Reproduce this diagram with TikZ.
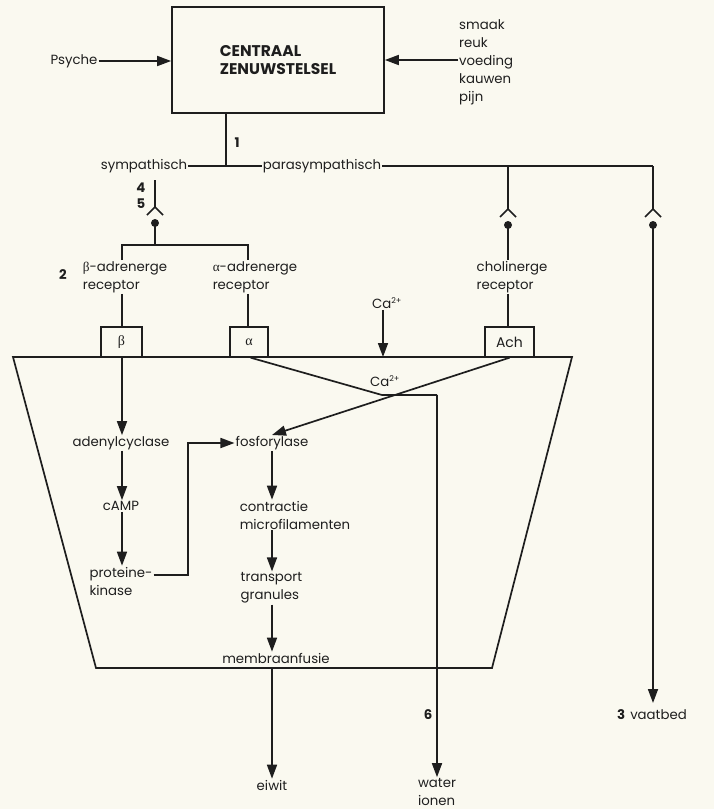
\documentclass[tikz,border=0pt]{standalone}
\usepackage{fontspec}
\setmainfont{Poppins}
\newfontfamily\grk{Liberation Serif}
\usetikzlibrary{arrows.meta}
\definecolor{bg}{RGB}{250,249,240}
\definecolor{ink}{RGB}{30,30,30}
\newcommand\bet{{\grk β}}
\newcommand\alf{{\grk α}}
\newcommand\capl{Ca\textsuperscript{\fontsize{8}{8}\selectfont 2+}}
\tikzset{
  ln/.style={draw=ink, line width=1.7pt},
  arr/.style={ln, -{Triangle[length=14pt,width=10pt]}},
  txt/.style={inner sep=1pt, text=ink, font=\fontsize{13.3}{18}\selectfont, align=left},
  num/.style={inner sep=1pt, text=ink, font=\fontsize{13.3}{18}\selectfont\bfseries},
  rbox/.style={draw=ink, line width=1.4pt, minimum height=30pt, inner sep=0pt, text=ink, font=\fontsize{14}{18}\selectfont},
  synapse/.pic={\draw[ln] (-8,8) -- (0,0) -- (8,8); \fill[ink] (0,16) circle[radius=4];}
}
\begin{document}
\begin{tikzpicture}[x=1pt,y=-1pt]
\fill[bg] (0,0) rectangle (714,809);
\useasboundingbox (0,0) rectangle (714,809);
% central box
\node[draw=ink, line width=1.7pt, minimum width=212pt, minimum height=106pt, align=left, text=ink,
      font=\fontsize{15.5}{18}\selectfont\bfseries] (czs) at (278,60) {CENTRAAL\\ZENUWSTELSEL};
\node[txt] (psyche) at (74,61) {Psyche};
\node[txt, anchor=west] (inputs) at (458,62) {smaak\\reuk\\voeding\\kauwen\\pijn};
\draw[arr] (psyche) -- (czs.west |- psyche);
\draw[arr] (inputs.west |- czs.west) -- (czs.east);
% split
\coordinate (j1) at (226,166);
\draw[ln] (czs.south -| j1) -- (j1);
\node[num] (n1) at (237,143) {1};
\node[txt] (symp) at (144,166) {sympathisch};
\node[txt] (para) at (322,166) {parasympathisch};
\draw[ln] (symp.east) -- (para.west);
\coordinate (cp) at (508,166);
\coordinate (vp) at (653,166);
\draw[ln] (para.east) -- (vp);
% sympathetic branch
\coordinate (s0) at (155,180);
\coordinate (s1) at (155,207);
\coordinate (s2) at (155,223);
\coordinate (s3) at (155,245);
\draw[ln] (s0) -- (s1);
\pic at (s1) {synapse};
\draw[ln] (s2) -- (s3);
\node[num] (n4) at (141,188) {4};
\node[num] (n5) at (141,204) {5};
\node[num] (n2) at (63,275) {2};
\node[txt] (brec) at (125,277) {\bet-adrenerge\\receptor};
\node[txt] (arec) at (255,277) {\alf-adrenerge\\receptor};
\coordinate (bl) at (122,245);
\coordinate (al) at (248,245);
\draw[ln] (bl |- brec.north) -- (bl) -- (al) -- (al |- arec.north);
% receptor boxes
\node[rbox, minimum width=41pt] (bbox) at (121.5,342) {\bet};
\node[rbox, minimum width=38pt] (abox) at (249,342) {\alf};
\node[rbox, minimum width=49pt] (achbox) at (509.5,342) {Ach};
\draw[ln] (bl |- brec.south) -- (bl |- bbox.north);
\draw[ln] (al |- arec.south) -- (al |- abox.north);
% cholinergic branch
\coordinate (c1) at (508,209);
\draw[ln] (cp) -- (c1);
\pic at (c1) {synapse};
\node[txt] (crec) at (512,277) {cholinerge\\receptor};
\draw[ln] (508,225) -- (cp |- crec.north);
\draw[ln] (cp |- crec.south) -- (cp |- achbox.north);
% vascular branch
\coordinate (v1) at (653,209);
\draw[ln] (vp) -- (v1);
\pic at (v1) {synapse};
\node[txt, anchor=west] (vaat) at (616,715) {\textbf{3}\hspace{5pt}vaatbed};
\coordinate (vtip) at (653,703);
\draw[arr] (653,225) -- (vtip);
% Ca top
\node[txt] (catop) at (387,303) {\capl};
\draw[arr] (catop.south -| 383,0) -- (383,357);
% cell trapezoid
\draw[ln, line join=miter] (13,357) -- (572,357) -- (492,668) -- (96,668) -- cycle;
% inner
\coordinate (x) at (382,395);
\coordinate (wt) at (437,395);
\node[txt] (cain) at (385,381) {\capl};
\node[txt] (aden) at (121,443) {adenylcyclase};
\node[txt] (camp) at (121,506) {cAMP};
\node[txt] (pk) at (121,581) {proteine-\\kinase};
\node[txt] (fos) at (272,443) {fosforylase};
\node[txt] (cm) at (295,515) {contractie\\microfilamenten};
\node[txt] (tg) at (271.5,588) {transport\\granules};
\node[txt] (mf) at (276,658) {membraanfusie};
\node[txt] (eiwit) at (272,785) {eiwit};
\node[txt] (water) at (437,792) {water\\ionen};
\node[num] (n6) at (428,715) {6};
\draw[arr] (bbox.south -| bl) -- (aden.north -| bl);
\draw[arr] (aden.south -| bl) -- (camp.north -| bl);
\draw[arr] (camp.south -| bl) -- (pk.north -| bl);
\draw[arr] (pk.east |- 0,575) -- (188,575) -- (188,443) -- (fos.west);
\draw[ln] (abox.south east) ++(-18,0) -- (x) -- (wt);
\draw[arr] (wt) -- (water.north);
\draw[arr] (achbox.south) -- (fos.north);
\draw[arr] (fos.south) -- (fos.south |- cm.north);
\draw[arr] (fos.south |- cm.south) -- (fos.south |- tg.north);
\draw[arr] (fos.south |- tg.south) -- (fos.south |- mf.north);
\draw[arr] (272,668) -- (eiwit.north);
\end{tikzpicture}
\end{document}
